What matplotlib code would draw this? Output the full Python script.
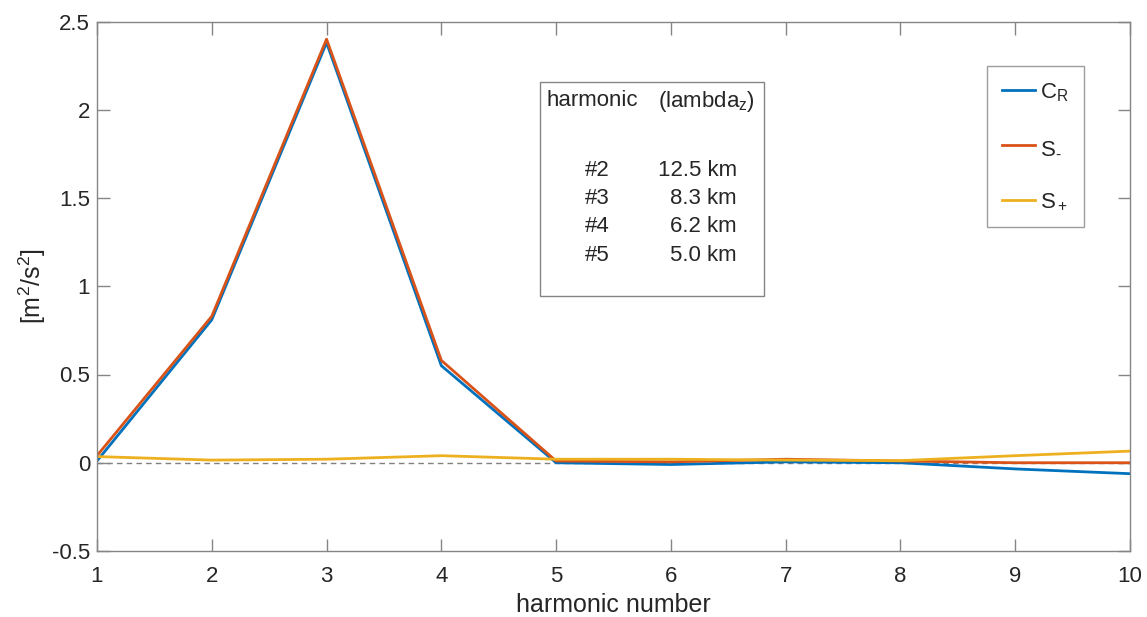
import matplotlib
matplotlib.use("Agg")
import matplotlib.pyplot as plt
from matplotlib.patches import Rectangle

plt.rcParams['font.family'] = ['Liberation Sans', 'DejaVu Sans']
plt.rcParams['mathtext.fontset'] = 'custom'
plt.rcParams['mathtext.rm'] = 'Liberation Sans'
plt.rcParams['mathtext.it'] = 'Liberation Sans'
plt.rcParams['mathtext.default'] = 'regular'

harmonic = [1, 2, 3, 4, 5, 6, 7, 8, 9, 10]
c_r     = [0.01, 0.81, 2.38, 0.55, 0.0, -0.01, 0.005, 0.0, -0.035, -0.062]
s_minus = [0.04, 0.83, 2.40, 0.58, 0.01, 0.005, 0.02, 0.01, 0.0, 0.0]
s_plus  = [0.035, 0.015, 0.02, 0.04, 0.02, 0.02, 0.015, 0.012, 0.04, 0.066]
labels = ['C$_R$', 'S$_‐$', 'S$_+$']
colors = ['#0072BD', '#D95319', '#EDB120']

table_rows = [('#2', '12.5 km'), ('#3', '8.3 km'), ('#4', '6.2 km'), ('#5', '5.0 km')]

W, H = 1147, 617
fig = plt.figure(figsize=(W/100, H/100), dpi=100)
ax = fig.add_axes([97/W, 1 - 551/H, (1130-97)/W, (551-21.5)/H])

axcol = '#858585'
txtcol = '#262626'
TS = 16
LS = 18
ax.axhline(0, color='#808080', ls=(0, (4, 3)), lw=1.0, zorder=1)
for y, lab, c in zip([c_r, s_minus, s_plus], labels, colors):
    ax.plot(harmonic, y, color=c, lw=2.0, label=lab, zorder=2)

ax.set_xlim(1, 10)
ax.set_ylim(-0.5, 2.5)
ax.set_xticks(harmonic)
ax.set_yticks([-0.5, 0, 0.5, 1, 1.5, 2, 2.5])
ax.set_yticklabels(['-0.5', '0', '0.5', '1', '1.5', '2', '2.5'])
ax.tick_params(direction='in', length=9, width=1, color=axcol, labelcolor=txtcol,
               labelsize=TS, top=True, right=True)
ax.tick_params(axis='x', pad=11)
ax.tick_params(axis='y', pad=5)
for s in ax.spines.values():
    s.set_color(axcol)
    s.set_linewidth(1.0)
ax.set_xlabel('harmonic number', fontsize=LS, color=txtcol, labelpad=4)
ax.set_ylabel('[m$^2$/s$^2$]', fontsize=LS, color=txtcol, labelpad=3)

leg = ax.legend(loc='upper left', bbox_to_anchor=(987/W, 1 - 66/H),
                bbox_transform=fig.transFigure, fontsize=TS, frameon=True,
                fancybox=False, edgecolor=axcol, handlelength=1.5,
                handletextpad=0.2, labelspacing=1.5, borderpad=0.68,
                borderaxespad=0)
leg.get_frame().set_linewidth(1.0)
for t in leg.get_texts():
    t.set_color(txtcol)

def px(x, y):
    return x / W, 1 - y / H

# text box
x0, y0, x1, y1 = 540, 82, 764, 296
fig.patches.append(Rectangle(px(x0, y1), (x1-x0)/W, (y1-y0)/H, transform=fig.transFigure,
                             facecolor='white', edgecolor=axcol, lw=1.0, zorder=5))
fig.text(*px(547, 101), 'harmonic', fontsize=TS, color=txtcol, ha='left', va='center', zorder=6)
fig.text(*px(755, 101), '(lambda$_z$)', fontsize=TS, color=txtcol, ha='right', va='center', zorder=6)
for i, (h, lam) in enumerate(table_rows):
    yy = 170 + i * 28.5
    fig.text(*px(610, yy), h, fontsize=TS, color=txtcol, ha='right', va='center', zorder=6)
    fig.text(*px(737, yy), lam, fontsize=TS, color=txtcol, ha='right', va='center', zorder=6)

fig.savefig('out.png', dpi=100)
